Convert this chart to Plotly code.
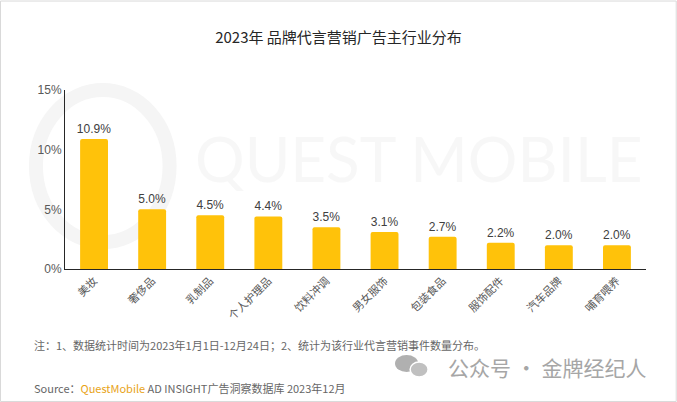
import plotly.graph_objects as go

# data
categories = ['美妆', '奢侈品', '乳制品', '个人护理品', '饮料冲调',
              '男女服饰', '包装食品', '服饰配件', '汽车品牌', '哺育喂养']
shares = [10.9, 5.0, 4.5, 4.4, 3.5, 3.1, 2.7, 2.2, 2.0, 2.0]
y_ticks = [0, 5, 10, 15]
y_tick_labels = ['0%', '5%', '10%', '15%']

FONT = 'Noto Sans CJK SC, Noto Sans, sans-serif'

fig = go.Figure()

fig.add_trace(go.Bar(
    x=categories,
    y=shares,
    width=0.48,
    marker=dict(color='#FFC20A', line=dict(width=0), cornerradius=2),
    text=[f'{v:.1f}%' for v in shares],
    textposition='outside',
    constraintext='none',
    textfont=dict(size=12, color='#404040', family='Liberation Sans, Arial, sans-serif'),
    cliponaxis=False,
    showlegend=False,
    hoverinfo='skip',
))

fig.update_layout(
    width=677,
    height=402,
    margin=dict(l=65, r=31, t=90, b=133),
    paper_bgcolor='white',
    plot_bgcolor='rgba(0,0,0,0)',
    font=dict(family=FONT, color='#595959'),
    title=dict(
        text='2023年 品牌代言营销广告主行业分布',
        x=0.5, xanchor='center', y=0.905, yanchor='middle',
        font=dict(size=15, color='#262626', family=FONT),
    ),
    xaxis=dict(
        showline=True, linecolor='#262626', linewidth=1.2,
        ticks='', tickangle=-45, showgrid=False,
        tickfont=dict(size=11, color='#595959', family=FONT),
    ),
    yaxis=dict(
        range=[0, 15], tickvals=y_ticks, ticktext=y_tick_labels,
        showline=True, linecolor='#262626', linewidth=1,
        showgrid=False, zeroline=False, ticks='',
        tickfont=dict(size=12, color='#595959', family='Liberation Sans, Arial, sans-serif'),
    ),
)

# watermark ring and text
fig.add_shape(type='circle', xref='paper', yref='paper',
              x0=-0.05, x1=0.18, y0=0.15, y1=1.0,
              line=dict(color='#f5f5f5', width=14), layer='below')
fig.add_annotation(text='QUEST MOBILE', xref='paper', yref='paper',
                   x=0.22, y=0.62, xanchor='left', yanchor='middle',
                   showarrow=False,
                   font=dict(size=62, color='rgba(235,235,235,0.4)',
                             family='Lato, Open Sans, sans-serif'))

# footnotes
fig.add_annotation(text='注：1、数据统计时间为2023年1月1日-12月24日；2、统计为该行业代言营销事件数量分布。',
                   xref='paper', yref='paper', x=-0.057, y=-0.425,
                   xanchor='left', yanchor='middle', showarrow=False,
                   font=dict(size=11, color='#666666', family=FONT))
fig.add_annotation(text='Source：<span style="color:#E8A317">QuestMobile</span> AD INSIGHT广告洞察数据库 2023年12月',
                   xref='paper', yref='paper', x=-0.057, y=-0.665,
                   xanchor='left', yanchor='middle', showarrow=False,
                   font=dict(size=11, color='#666666', family=FONT))
fig.add_annotation(text='公众号 · 金牌经纪人',
                   xref='paper', yref='paper', x=1.003, y=-0.547,
                   xanchor='right', yanchor='middle', showarrow=False,
                   font=dict(size=21, color='#a6a6a6', family=FONT))
# wechat-like icon
fig.add_shape(type='circle', xref='paper', yref='paper',
              x0=0.568, x1=0.608, y0=-0.575, y1=-0.48,
              fillcolor='#b0b0b0', line=dict(width=0))
fig.add_shape(type='circle', xref='paper', yref='paper',
              x0=0.594, x1=0.625, y0=-0.603, y1=-0.52,
              fillcolor='#c0c0c0', line=dict(color='white', width=1.5))

# light border around the picture
fig.add_shape(type='rect', xref='paper', yref='paper',
              x0=-0.111, x1=1.052, y0=-0.74, y1=1.497,
              line=dict(color='#d9d9d9', width=1))

fig.write_html('out.html', config={'displayModeBar': False},
               post_script="document.body.style.margin='0';")
